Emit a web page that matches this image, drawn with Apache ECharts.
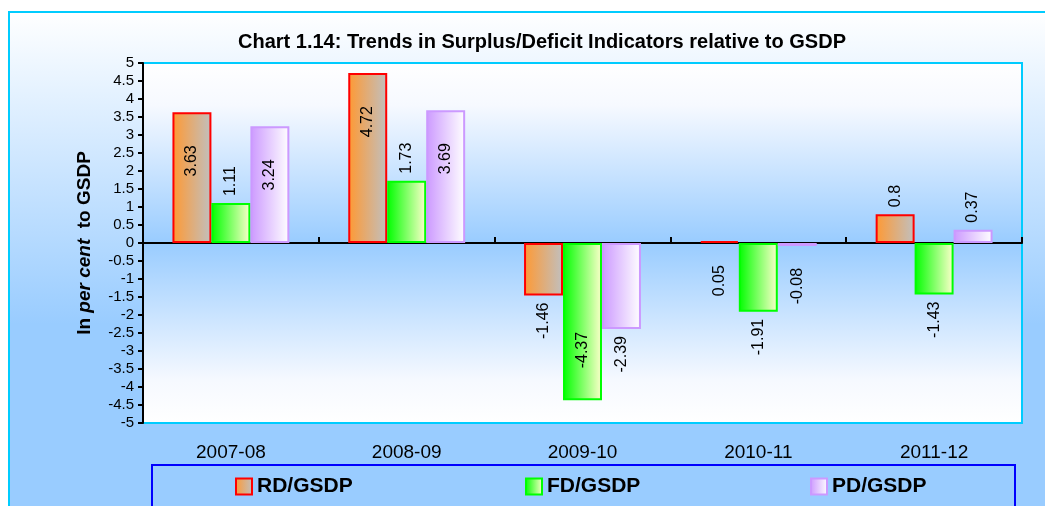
<!DOCTYPE html>
<html>
<head>
<meta charset="utf-8">
<script src="https://cdn.jsdelivr.net/npm/echarts@6/dist/echarts.min.js"></script>
<style>
  html, body { margin: 0; padding: 0; background: #ffffff; }
  #chart { width: 1045px; height: 506px; }
</style>
</head>
<body>
<div id="chart"></div>
<script>
// data
var categories = ['2007-08', '2008-09', '2009-10', '2010-11', '2011-12'];
var rdValues = [3.63, 4.72, -1.46, 0.05, 0.8];
var fdValues = [1.11, 1.73, -4.37, -1.91, -1.43];
var pdValues = [3.24, 3.69, -2.39, -0.08, 0.37];

var dom = document.getElementById('chart');
var myChart = echarts.init(dom, null, { renderer: 'canvas' });

function hGrad(from, to) {
  return {
    type: 'linear', x: 0, y: 0, x2: 1, y2: 0,
    colorStops: [{ offset: 0, color: from }, { offset: 1, color: to }]
  };
}

// label placement, as in the original (some labels sit inside the bar end)
function makeData(values, insideIdx) {
  return values.map(function (v, i) {
    var lbl;
    if (Math.abs(v) < 0.1) {
      lbl = { position: 'bottom', distance: 22, align: 'right' };
    } else if (insideIdx.indexOf(i) >= 0) {
      lbl = v > 0
        ? { position: 'insideTop', distance: 33, align: 'right' }
        : { position: 'insideBottom', distance: 32, align: 'left' };
    } else {
      lbl = v > 0
        ? { position: 'top', distance: 7, align: 'left' }
        : { position: 'bottom', distance: 7, align: 'right' };
    }
    return { value: v, label: lbl };
  });
}

var labelBase = {
  show: true,
  rotate: 90,
  verticalAlign: 'middle',
  fontFamily: 'Arial, "Liberation Sans", sans-serif',
  fontSize: 16,
  color: '#000000'
};

function makeSeries(name, values, insideIdx, from, to, border) {
  return {
    name: name,
    type: 'bar',
    xAxisIndex: 0,
    barGap: '0%',
    barCategoryGap: '33.5%',
    itemStyle: {
      color: hGrad(from, to),
      borderColor: border,
      borderWidth: 2
    },
    label: labelBase,
    data: makeData(values, insideIdx)
  };
}

function legendAt(name, left) {
  return {
    data: [name],
    left: left,
    top: 476,
    padding: 0,
    icon: 'rect',
    itemWidth: 16,
    itemHeight: 16,
    itemGap: 5,
    textStyle: {
      fontFamily: 'Arial, "Liberation Sans", sans-serif',
      fontWeight: 'bold',
      fontSize: 21,
      color: '#000000'
    }
  };
}

var option = {
  backgroundColor: '#ffffff',
  animation: false,
  graphic: [
    {
      type: 'rect',
      z: -10,
      silent: true,
      shape: { x: 9, y: 12, width: 1060, height: 520 },
      style: {
        fill: {
          type: 'linear', x: 0, y: 0, x2: 0, y2: 1,
          colorStops: [
            { offset: 0, color: '#ffffff' },
            { offset: 0.6, color: '#99ccff' },
            { offset: 1, color: '#99ccff' }
          ]
        },
        stroke: '#00ccff',
        lineWidth: 2
      }
    },
    {
      type: 'rect',
      z: 1,
      silent: true,
      shape: { x: 152, y: 465, width: 863, height: 60 },
      style: { fill: 'transparent', stroke: '#0000ff', lineWidth: 2 }
    }
  ],
  title: {
    text: 'Chart 1.14: Trends in Surplus/Deficit Indicators relative to GSDP',
    left: 537,
    top: 27,
    textAlign: 'center',
    textStyle: {
      fontFamily: 'Arial, "Liberation Sans", sans-serif',
      fontWeight: 'bold',
      fontSize: 20,
      color: '#000000'
    }
  },
  legend: [
    legendAt('RD/GSDP', 235),
    legendAt('FD/GSDP', 525),
    legendAt('PD/GSDP', 810)
  ],
  grid: {
    left: 143,
    right: 23,
    top: 63,
    bottom: 83,
    show: true,
    borderColor: '#00ccff',
    borderWidth: 2,
    backgroundColor: {
      type: 'linear', x: 0, y: 0, x2: 0, y2: 1,
      colorStops: [
        { offset: 0, color: '#ffffff' },
        { offset: 0.12, color: '#f6f9ff' },
        { offset: 0.5, color: '#99ccff' },
        { offset: 0.88, color: '#f6f9ff' },
        { offset: 1, color: '#ffffff' }
      ]
    }
  },
  xAxis: [
    {
      type: 'category',
      data: categories,
      axisLine: { onZero: true, lineStyle: { color: '#000000', width: 2 } },
      axisTick: { show: true, inside: true, length: 6, lineStyle: { color: '#000000', width: 2 } },
      axisLabel: { show: false },
      splitLine: { show: false }
    },
    {
      type: 'category',
      data: categories,
      position: 'bottom',
      axisLine: { show: false, onZero: false },
      axisTick: { show: false },
      axisLabel: {
        margin: 20,
        fontFamily: 'Arial, "Liberation Sans", sans-serif',
        fontSize: 19,
        color: '#000000'
      },
      splitLine: { show: false }
    }
  ],
  yAxis: {
    type: 'value',
    min: -5,
    max: 5,
    interval: 0.5,
    name: '{b|In }{i|per cent}{b|  to GSDP}',
    nameLocation: 'middle',
    nameGap: 49,
    nameTextStyle: {
      rich: {
        b: { fontFamily: 'Arial, "Liberation Sans", sans-serif', fontWeight: 'bold', fontSize: 19, color: '#000000' },
        i: { fontFamily: 'Arial, "Liberation Sans", sans-serif', fontWeight: 'bold', fontStyle: 'italic', fontSize: 19, color: '#000000' }
      }
    },
    axisLine: { show: true, lineStyle: { color: '#000000', width: 2 } },
    axisTick: { show: true, length: 5, lineStyle: { color: '#000000', width: 2 } },
    axisLabel: {
      margin: 9,
      fontFamily: 'Arial, "Liberation Sans", sans-serif',
      fontSize: 15,
      color: '#000000'
    },
    splitLine: { show: false }
  },
  series: [
    makeSeries('RD/GSDP', rdValues, [0, 1], '#ff9933', '#c0c0c0', '#ff0000'),
    makeSeries('FD/GSDP', fdValues, [2], '#00ff00', '#ffffcc', '#00ff00'),
    makeSeries('PD/GSDP', pdValues, [0, 1], '#cc99ff', '#ffffff', '#cc99ff')
  ]
};

myChart.setOption(option);
window.addEventListener('resize', myChart.resize);
</script>
</body>
</html>
